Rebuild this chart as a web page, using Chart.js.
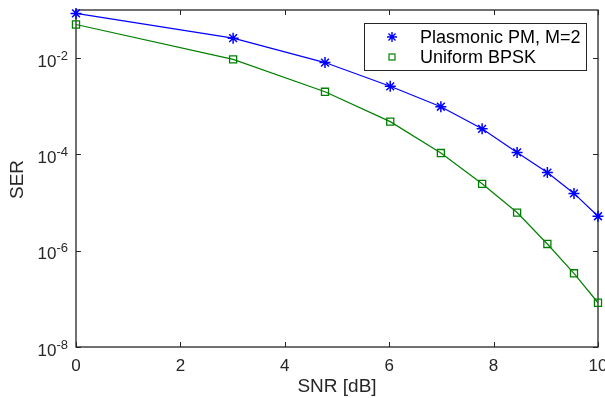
<!DOCTYPE html>
<html>
<head>
<meta charset="utf-8">
<script src="https://cdn.jsdelivr.net/npm/chart.js@4.4.1/dist/chart.umd.min.js"></script>
<style>
  html, body { margin: 0; padding: 0; background: #fff; }
</style>
</head>
<body>
<canvas id="myChart" width="605" height="398"></canvas>
<script>
// SNR in dB (10*log10 of 1..10)
const snrDb = [0, 3.01, 4.77, 6.02, 6.99, 7.78, 8.45, 9.03, 9.54, 10];
// symbol error rates
const serPlasmonic = [0.085, 0.026, 0.0081, 0.0026, 9.8e-4, 3.4e-4, 1.1e-4, 4.2e-5, 1.55e-5, 5.2e-6];
const serBpsk = [0.050, 0.0094, 0.0020, 4.8e-4, 1.07e-4, 2.45e-5, 6.2e-6, 1.38e-6, 3.4e-7, 8.3e-8];
const seriesLabels = ["Plasmonic PM, M=2", "Uniform BPSK"];

const xTicks = [0, 2, 4, 6, 8, 10];
const yTicks = [1e-8, 1e-6, 1e-4, 1e-2];
const yTickExp = ["-8", "-6", "-4", "-2"];

const axisColor = "#262626";
const fontName = "'Liberation Sans', Arial, Helvetica, sans-serif";

// frame, inward ticks, tick labels, axis titles and legend
const matlabAxes = {
  id: "matlabAxes",
  beforeDatasetsDraw(chart) {
    const ctx = chart.ctx;
    const a = chart.chartArea;
    const xs = chart.scales.x;
    const ys = chart.scales.y;
    ctx.save();
    ctx.strokeStyle = axisColor;
    ctx.lineWidth = 1.3;
    ctx.strokeRect(a.left, a.top, a.right - a.left, a.bottom - a.top);

    ctx.lineWidth = 1;
    ctx.beginPath();
    xs.ticks.forEach(t => {
      const px = Math.round(xs.getPixelForValue(t.value)) + 0.5;
      ctx.moveTo(px, a.bottom); ctx.lineTo(px, a.bottom - 5);
      ctx.moveTo(px, a.top); ctx.lineTo(px, a.top + 5);
    });
    ys.ticks.forEach(t => {
      const py = Math.round(ys.getPixelForValue(t.value)) + 0.5;
      ctx.moveTo(a.left, py); ctx.lineTo(a.left + 5, py);
      ctx.moveTo(a.right, py); ctx.lineTo(a.right - 5, py);
    });
    ctx.stroke();

    // x tick labels
    ctx.fillStyle = axisColor;
    ctx.font = "17px " + fontName;
    ctx.textAlign = "center";
    ctx.textBaseline = "alphabetic";
    xs.ticks.forEach(t => {
      ctx.fillText(String(t.value), xs.getPixelForValue(t.value), a.bottom + 24);
    });

    // y tick labels: 10 with superscript exponent
    ys.ticks.forEach((t, i) => {
      const py = ys.getPixelForValue(t.value);
      const exp = yTickExp[i];
      ctx.font = "13px " + fontName;
      const ew = ctx.measureText(exp).width;
      ctx.textAlign = "left";
      const right = a.left - 8;
      ctx.fillText(exp, right - ew, py + 1.5);
      ctx.font = "17px " + fontName;
      ctx.textAlign = "right";
      ctx.fillText("10", right - ew, py + 8.5);
    });

    // axis titles
    ctx.font = "19px " + fontName;
    ctx.textAlign = "center";
    ctx.fillText("SNR [dB]", (a.left + a.right) / 2, a.bottom + 45);
    ctx.save();
    ctx.translate(23, (a.top + a.bottom) / 2 + 1);
    ctx.rotate(-Math.PI / 2);
    ctx.fillText("SER", 0, 0);
    ctx.restore();
    ctx.restore();
  },
  afterDatasetsDraw(chart) {
    const ctx = chart.ctx;
    ctx.save();
    // legend box
    ctx.fillStyle = "#fff";
    ctx.fillRect(364, 23, 222, 47);
    ctx.strokeStyle = axisColor;
    ctx.lineWidth = 1;
    ctx.strokeRect(364.5, 23.5, 222, 47);

    const rows = [37, 57];
    chart.data.datasets.forEach((ds, i) => {
      const cy = rows[i];
      const cx = 392;
      ctx.strokeStyle = ds.borderColor;
      ctx.lineWidth = 1.4;
      ctx.beginPath();
      if (ds.pointStyle === "star") {
        const r = 5;
        ctx.moveTo(cx - r, cy); ctx.lineTo(cx + r, cy);
        ctx.moveTo(cx, cy - r); ctx.lineTo(cx, cy + r);
        const d = r * Math.SQRT1_2;
        ctx.moveTo(cx - d, cy - d); ctx.lineTo(cx + d, cy + d);
        ctx.moveTo(cx - d, cy + d); ctx.lineTo(cx + d, cy - d);
        ctx.stroke();
      } else {
        ctx.lineWidth = 1.2;
        ctx.strokeRect(cx - 3, cy - 3, 6, 6);
      }
      ctx.fillStyle = "#000";
      ctx.font = "18px " + fontName;
      ctx.textAlign = "left";
      ctx.textBaseline = "alphabetic";
      ctx.fillText(ds.label, 420, cy + 6);
    });
    ctx.restore();
  }
};

const ctx = document.getElementById("myChart").getContext("2d");
const myChart = new Chart(ctx, {
  type: "line",
  data: {
    datasets: [
      {
        label: seriesLabels[0],
        data: snrDb.map((x, i) => ({ x: x, y: serPlasmonic[i] })),
        borderColor: "#0000ff",
        backgroundColor: "#0000ff",
        borderWidth: 1.2,
        pointStyle: "star",
        pointRadius: 5.5,
        pointBorderWidth: 1.5,
        tension: 0,
        clip: false
      },
      {
        label: seriesLabels[1],
        data: snrDb.map((x, i) => ({ x: x, y: serBpsk[i] })),
        borderColor: "#008000",
        backgroundColor: "rgba(0,0,0,0)",
        borderWidth: 1.2,
        pointStyle: "rect",
        pointRadius: 5,
        pointBorderWidth: 1.3,
        tension: 0,
        clip: false
      }
    ]
  },
  options: {
    responsive: false,
    animation: false,
    layout: { padding: { left: 0, right: 6, top: 10, bottom: 0 } },
    plugins: {
      legend: { display: false },
      tooltip: { enabled: false }
    },
    scales: {
      x: {
        type: "linear",
        min: 0,
        max: 10,
        ticks: { display: false },
        grid: { display: false },
        border: { display: false },
        afterBuildTicks: s => { s.ticks = xTicks.map(v => ({ value: v })); },
        afterFit: s => { s.height = 51; }
      },
      y: {
        type: "logarithmic",
        min: 1e-8,
        max: 1e-1,
        bounds: "data",
        ticks: { display: false },
        grid: { display: false },
        border: { display: false },
        afterBuildTicks: s => { s.ticks = yTicks.map(v => ({ value: v })); },
        afterFit: s => { s.width = 76; }
      }
    }
  },
  plugins: [matlabAxes]
});
</script>
</body>
</html>
